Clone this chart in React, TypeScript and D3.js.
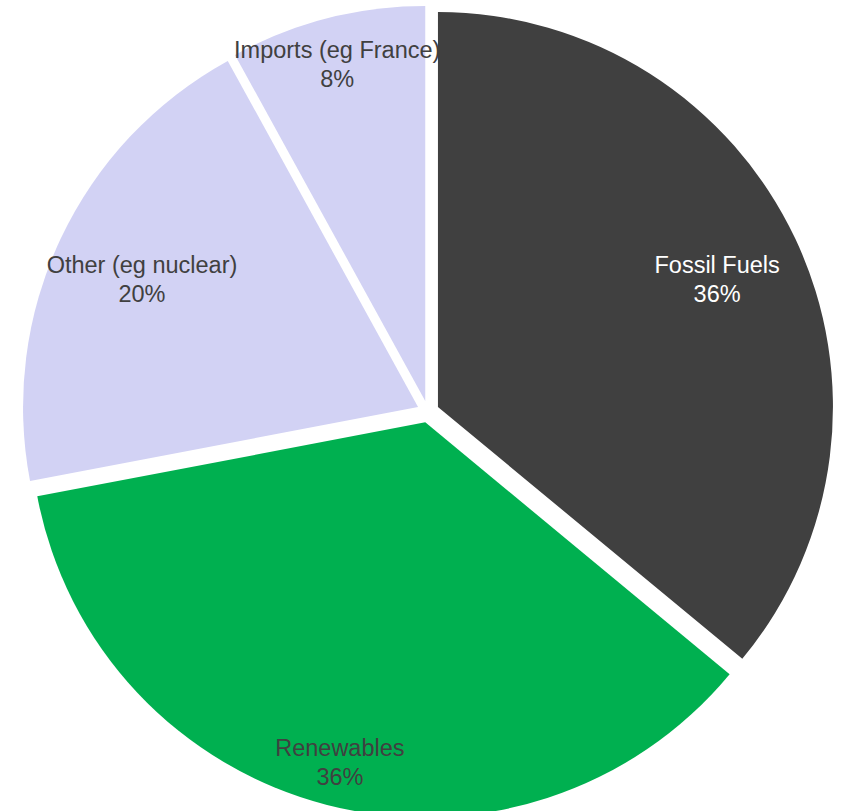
import React from "react";
import * as d3 from "d3";

const categories = ["Fossil Fuels", "Renewables", "Other (eg nuclear)", "Imports (eg France)"];
const values = [36, 36, 20, 8];
const valueLabels = ["36%", "36%", "20%", "8%"];

const colors = ["#404040", "#00B050", "#D2D2F4", "#D2D2F4"];
const textColors = ["#FFFFFF", "#404040", "#404040", "#404040"];
const labelRadiusFactor = [0.797, 0.935, 0.789, 0.888];
const labelAngleShiftDeg = [1.9, -0.6, -1.8, -0.6];

const W = 843;
const H = 811;
const CX = 428;
const CY = 411.7;
const R = 395;
const EXPLODE = 11;

export default function App() {
  const pie = d3.pie<number>().sort(null).startAngle(0).endAngle(2 * Math.PI)(values);
  const arc = d3.arc<d3.PieArcDatum<number>>().innerRadius(0).outerRadius(R);

  return (
    <svg
      width={W}
      height={H}
      style={{ position: "absolute", left: 0, top: 0, background: "#fff" }}
      fontFamily="'Liberation Sans', Arial, sans-serif"
    >
      {pie.map((d, i) => {
        const mid = (d.startAngle + d.endAngle) / 2;
        const ox = CX + EXPLODE * Math.sin(mid);
        const oy = CY - EXPLODE * Math.cos(mid);
        return (
          <path key={i} d={arc(d) || ""} transform={`translate(${ox},${oy})`} fill={colors[i]} />
        );
      })}
      {pie.map((d, i) => {
        const mid = (d.startAngle + d.endAngle) / 2 + (labelAngleShiftDeg[i] * Math.PI) / 180;
        const lr = R * labelRadiusFactor[i];
        const lx = CX + lr * Math.sin(mid);
        const ly = CY - lr * Math.cos(mid);
        return (
          <text key={i} textAnchor="middle" fontSize={23.5} fill={textColors[i]}>
            <tspan x={lx} y={ly - 14.5}>{categories[i]}</tspan>
            <tspan x={lx} y={ly + 14.5}>{valueLabels[i]}</tspan>
          </text>
        );
      })}
    </svg>
  );
}
